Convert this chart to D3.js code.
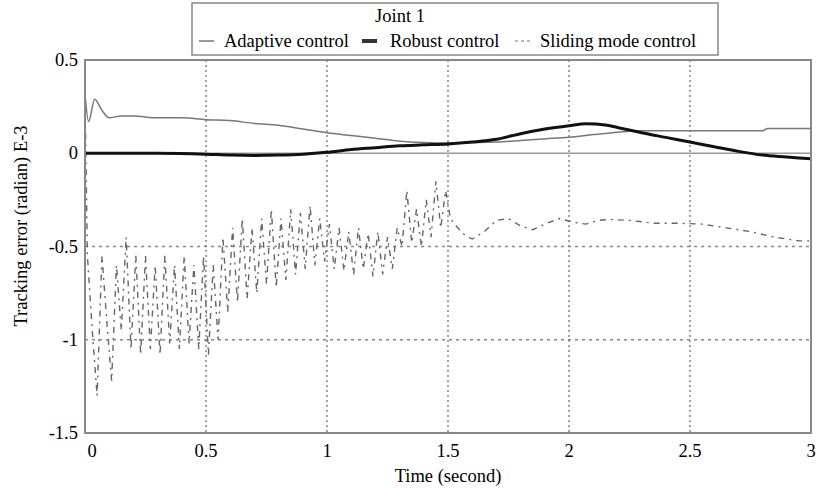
<!DOCTYPE html>
<html>
<head>
<meta charset="utf-8">
<script src="https://cdn.jsdelivr.net/npm/d3@7"></script>
<style>
  body { margin: 0; background: #fff; }
</style>
</head>
<body>
<div id="chart"></div>
<script>
// series data (time in seconds, error in radian E-3)
var adaptiveTime  = [0, 0.015, 0.04, 0.07, 0.1, 0.15, 0.2, 0.3, 0.4, 0.5, 0.6, 0.7, 0.8, 0.9, 1.0, 1.1, 1.2, 1.3, 1.4, 1.5, 1.6, 1.7, 1.8, 1.9, 2.0, 2.1, 2.2, 2.3, 2.5, 2.8, 2.82, 3.0];
var adaptiveValue = [0.32, 0.17, 0.29, 0.23, 0.19, 0.2, 0.2, 0.19, 0.19, 0.18, 0.175, 0.16, 0.15, 0.13, 0.11, 0.095, 0.08, 0.065, 0.058, 0.055, 0.057, 0.06, 0.068, 0.077, 0.086, 0.1, 0.113, 0.12, 0.12, 0.12, 0.133, 0.133];

var robustTime  = [0, 0.3, 0.5, 0.6, 0.7, 0.8, 0.9, 1.0, 1.1, 1.2, 1.3, 1.4, 1.5, 1.6, 1.7, 1.8, 1.9, 2.0, 2.07, 2.15, 2.2, 2.3, 2.4, 2.5, 2.6, 2.7, 2.8, 2.9, 3.0];
var robustValue = [0.0, 0.0, -0.005, -0.01, -0.012, -0.01, -0.005, 0.005, 0.02, 0.03, 0.04, 0.045, 0.05, 0.06, 0.075, 0.105, 0.13, 0.148, 0.158, 0.152, 0.138, 0.11, 0.085, 0.06, 0.035, 0.01, -0.01, -0.02, -0.03];

var smcTime  = [0, 0.01, 0.03, 0.05, 0.07, 0.09, 0.11, 0.13, 0.15, 0.17, 0.19, 0.21, 0.23, 0.25, 0.27, 0.29, 0.31, 0.33, 0.35, 0.37, 0.39,
                0.41, 0.43, 0.45, 0.47, 0.49, 0.51, 0.53, 0.55, 0.57, 0.59, 0.61, 0.63, 0.65, 0.67, 0.69, 0.71, 0.73, 0.75, 0.77, 0.79,
                0.81, 0.83, 0.85, 0.87, 0.89, 0.91, 0.93, 0.95, 0.97, 0.99, 1.01, 1.03, 1.05, 1.07, 1.09, 1.11, 1.13, 1.15, 1.17, 1.19,
                1.21, 1.23, 1.25, 1.27, 1.29, 1.31, 1.33, 1.35, 1.37, 1.39, 1.41, 1.43, 1.45, 1.47, 1.49,
                1.51, 1.54, 1.57, 1.6, 1.65, 1.7, 1.75, 1.8, 1.85, 1.9, 1.96, 2.02, 2.07, 2.12, 2.17, 2.25, 2.35, 2.45, 2.55, 2.65, 2.75, 2.85, 2.95, 3.0];
var smcValue = [0.3, -0.55, -0.95, -1.3, -0.55, -0.9, -1.22, -0.6, -0.95, -0.45, -1.05, -0.55, -1.08, -0.55, -1.05, -0.6, -1.08, -0.55, -1.02, -0.6, -1.05,
                -0.55, -1.02, -0.6, -1.05, -0.55, -1.08, -0.6, -1.0, -0.45, -0.85, -0.4, -0.8, -0.35, -0.78, -0.4, -0.75, -0.35, -0.7, -0.3, -0.72,
                -0.35, -0.68, -0.3, -0.65, -0.32, -0.62, -0.28, -0.6, -0.35, -0.58, -0.38, -0.62, -0.4, -0.63, -0.42, -0.65, -0.4, -0.62, -0.43, -0.66,
                -0.42, -0.65, -0.45, -0.62, -0.4, -0.5, -0.2, -0.48, -0.3, -0.5, -0.25, -0.45, -0.15, -0.4, -0.2,
                -0.35, -0.4, -0.44, -0.46, -0.42, -0.36, -0.35, -0.39, -0.41, -0.38, -0.35, -0.37, -0.38, -0.36, -0.355, -0.36, -0.375, -0.375, -0.38, -0.4, -0.42, -0.45, -0.47, -0.47];

var xTicks = [0, 0.5, 1, 1.5, 2, 2.5, 3];
var yTicks = [0.5, 0, -0.5, -1, -1.5];
var legendNames = ["Adaptive control", "Robust control", "Sliding mode control"];

var width = 819, height = 488;
var margin = { top: 60, right: 8, bottom: 55, left: 85 };
var fontSize = 18.5;

var svg = d3.select("#chart").append("svg")
    .attr("width", width)
    .attr("height", height)
    .attr("font-family", "'Liberation Serif', 'Times New Roman', serif");

var x = d3.scaleLinear().domain([0, 3]).range([margin.left, width - margin.right]);
var y = d3.scaleLinear().domain([-1.5, 0.5]).range([height - margin.bottom, margin.top]);

// grid lines
svg.append("g").selectAll("line")
    .data(xTicks.filter(function(d) { return d > 0 && d < 3; }))
    .enter().append("line")
    .attr("x1", function(d) { return x(d); })
    .attr("x2", function(d) { return x(d); })
    .attr("y1", y(0.5)).attr("y2", y(-1.5))
    .attr("stroke", "#888").attr("stroke-width", 1.5)
    .attr("stroke-dasharray", "2,3");

svg.append("g").selectAll("line")
    .data([-0.5, -1])
    .enter().append("line")
    .attr("x1", x(0)).attr("x2", x(3))
    .attr("y1", function(d) { return y(d); })
    .attr("y2", function(d) { return y(d); })
    .attr("stroke", "#888").attr("stroke-width", 1.5)
    .attr("stroke-dasharray", "3,4");

svg.append("line")
    .attr("x1", x(0)).attr("x2", x(3))
    .attr("y1", y(0)).attr("y2", y(0))
    .attr("stroke", "#999").attr("stroke-width", 1.5);

// series
var smcLine = d3.line()
    .x(function(d, i) { return x(smcTime[i]); })
    .y(function(d) { return y(d); });

svg.append("path")
    .attr("d", smcLine(smcValue))
    .attr("fill", "none")
    .attr("stroke", "#666")
    .attr("stroke-width", 1.4)
    .attr("stroke-dasharray", "6,5,2,5");

var adaptiveLine = d3.line()
    .x(function(d, i) { return x(adaptiveTime[i]); })
    .y(function(d) { return y(d); })
    .curve(d3.curveMonotoneX);

svg.append("path")
    .attr("d", adaptiveLine(adaptiveValue))
    .attr("fill", "none")
    .attr("stroke", "#777")
    .attr("stroke-width", 1.5);

var robustLine = d3.line()
    .x(function(d, i) { return x(robustTime[i]); })
    .y(function(d) { return y(d); })
    .curve(d3.curveMonotoneX);

svg.append("path")
    .attr("d", robustLine(robustValue))
    .attr("fill", "none")
    .attr("stroke", "#111")
    .attr("stroke-width", 3);

// frame
svg.append("rect")
    .attr("x", x(0)).attr("y", y(0.5))
    .attr("width", x(3) - x(0)).attr("height", y(-1.5) - y(0.5))
    .attr("fill", "none").attr("stroke", "#888").attr("stroke-width", 2);

// axes labels
svg.append("g").selectAll("text")
    .data(xTicks)
    .enter().append("text")
    .attr("x", function(d) { return x(d) + (d === 0 ? 7 : 0); })
    .attr("y", height - margin.bottom + 24)
    .attr("text-anchor", "middle")
    .attr("font-size", fontSize)
    .text(function(d) { return d; });

svg.append("g").selectAll("text")
    .data(yTicks)
    .enter().append("text")
    .attr("x", margin.left - 7)
    .attr("y", function(d) { return y(d) + 6; })
    .attr("text-anchor", "end")
    .attr("font-size", fontSize)
    .text(function(d) { return d; });

svg.append("text")
    .attr("x", (x(0) + x(3)) / 2)
    .attr("y", height - 6)
    .attr("text-anchor", "middle")
    .attr("font-size", fontSize)
    .text("Time (second)");

svg.append("text")
    .attr("transform", "translate(27," + 226 + ") rotate(-90)")
    .attr("text-anchor", "middle")
    .attr("font-size", fontSize)
    .text("Tracking error (radian) E-3");

// legend
var legend = svg.append("g");
legend.append("rect")
    .attr("x", 192).attr("y", 3)
    .attr("width", 526).attr("height", 52)
    .attr("fill", "#fff").attr("stroke", "#888").attr("stroke-width", 1.5);

legend.append("text")
    .attr("x", 400).attr("y", 22)
    .attr("text-anchor", "middle")
    .attr("font-size", fontSize)
    .text("Joint 1");

var legendX = [199, 362, 515];
var legendTextX = [224, 390, 540];
var legendStyle = [
    { stroke: "#999", width: 2, dash: null },
    { stroke: "#333", width: 4, dash: null },
    { stroke: "#bbb", width: 2, dash: "3,3" }
];
legendNames.forEach(function(name, i) {
    legend.append("line")
        .attr("x1", legendX[i]).attr("x2", legendX[i] + 15)
        .attr("y1", 41).attr("y2", 41)
        .attr("stroke", legendStyle[i].stroke)
        .attr("stroke-width", legendStyle[i].width)
        .attr("stroke-dasharray", legendStyle[i].dash);
    legend.append("text")
        .attr("x", legendTextX[i])
        .attr("y", 47)
        .attr("font-size", fontSize)
        .text(name);
});
</script>
</body>
</html>
